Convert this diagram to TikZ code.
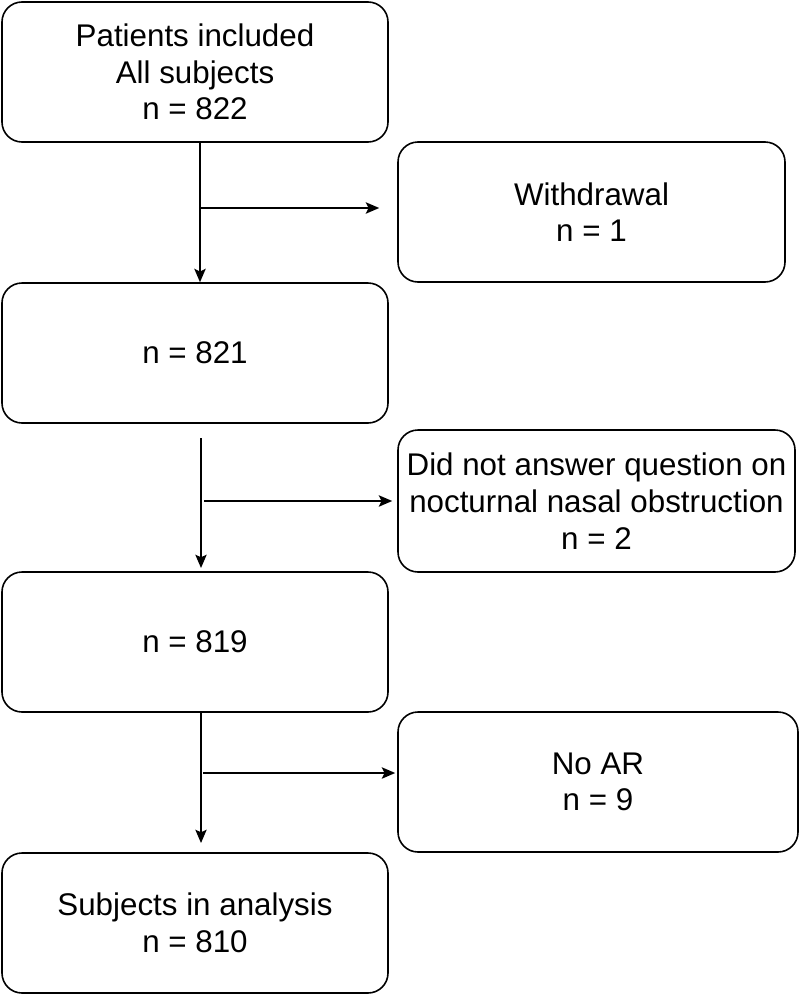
\documentclass[tikz,border=0pt]{standalone}
\usepackage{fontspec}
\setmainfont{Liberation Sans}
\usetikzlibrary{arrows.meta}

\tikzset{
  flowbox/.style={draw,line width=1.2pt,rounded corners=15pt,align=center,
    inner sep=0pt,font=\fontsize{23.5}{27.5}\selectfont},
  flowarr/.style={line width=1.2pt,-{Stealth[length=10pt,width=8.5pt,inset=2pt]}}
}

\begin{document}
\begin{tikzpicture}[x=0.75pt,y=-0.75pt]
	\useasboundingbox (0,0) rectangle (800,996);
	% main column
	\node[flowbox,minimum width=386*0.75pt,minimum height=140*0.75pt] (incl) at (195,72) {Patients included\\All subjects\\n = 822};
	\node[flowbox,minimum width=386*0.75pt,minimum height=140*0.75pt] (n821) at (195,353) {n = 821};
	\node[flowbox,minimum width=386*0.75pt,minimum height=140*0.75pt] (n819) at (195,642) {n = 819};
	\node[flowbox,minimum width=386*0.75pt,minimum height=140*0.75pt] (anal) at (195,923) {Subjects in analysis\\n = 810};
	% exclusions
	\node[flowbox,minimum width=387*0.75pt,minimum height=140*0.75pt] (withdr) at (591.5,212) {Withdrawal\\n = 1};
	\node[flowbox,minimum width=397*0.75pt,minimum height=142*0.75pt] (noans) at (596.5,501) {Did not answer question on\\nocturnal nasal obstruction\\n = 2};
	\node[flowbox,minimum width=400*0.75pt,minimum height=140*0.75pt] (noar) at (598,782) {No AR\\n = 9};
	% free ends
	\coordinate (b1) at (200,208);
	\coordinate (s2) at (201,438);
	\coordinate (e2) at (201,568);
	\coordinate (b2) at (204,501);
	\coordinate (e3) at (201,843);
	\coordinate (b3) at (203,773);
	% arrows
	\draw[flowarr] ([xshift=3.75pt]incl.south) -- ([xshift=3.75pt]n821.north);
	\draw[flowarr] (b1) -- ([xshift=-13.5pt]withdr.west |- b1);
	\draw[flowarr] (s2) -- (e2);
	\draw[flowarr] (b2) -- ([xshift=-3.75pt]noans.west |- b2);
	\draw[flowarr] ([xshift=4.5pt]n819.south) -- (e3);
	\draw[flowarr] (b3) -- ([xshift=-1.5pt]noar.west |- b3);
\end{tikzpicture}
\end{document}
